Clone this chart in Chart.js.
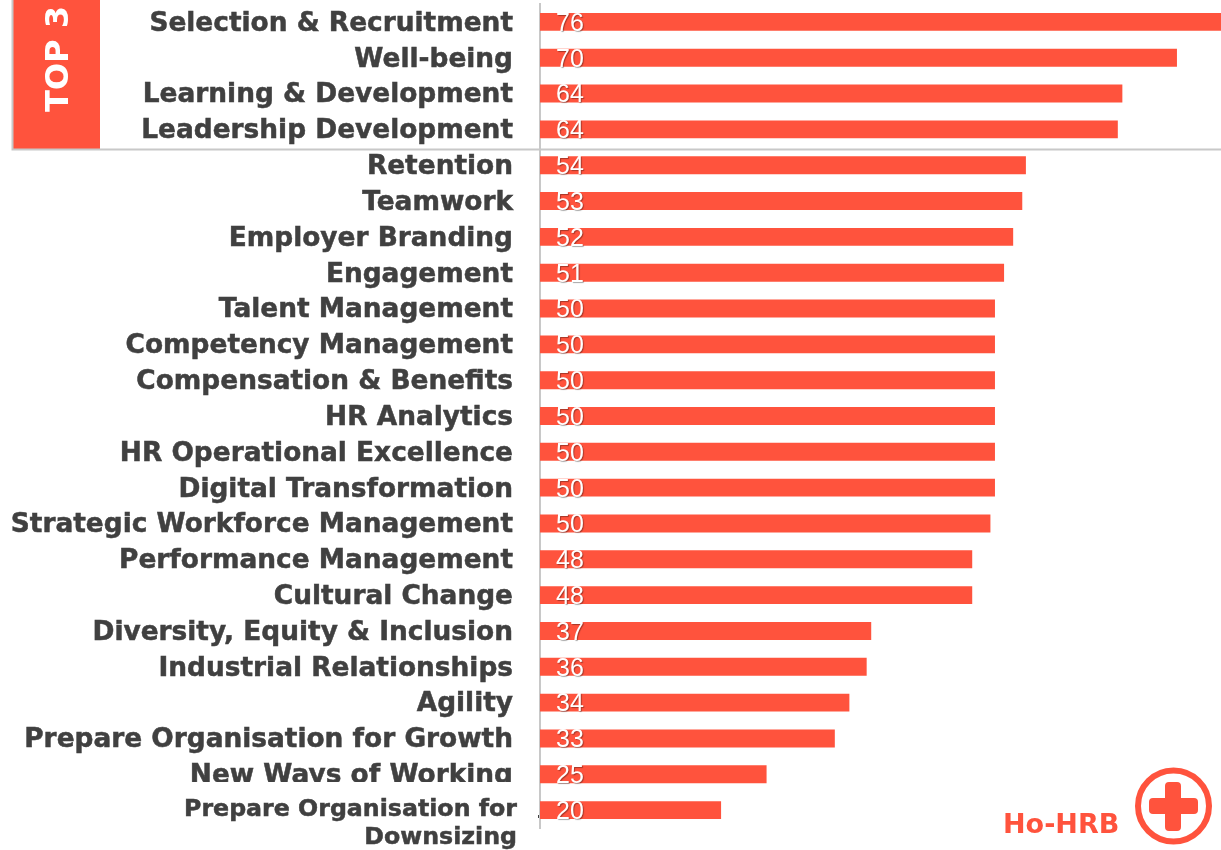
<!DOCTYPE html>
<html>
<head>
<meta charset="utf-8">
<style>
  html, body { margin: 0; padding: 0; background: #fff; overflow: hidden; }
  canvas { display: block; }
</style>
<script src="https://cdn.jsdelivr.net/npm/chart.js@4"></script>
</head>
<body>
<canvas id="topicsChart" width="1221" height="850"></canvas>
<script>
// --- Data ---
const categories = [
  'Selection & Recruitment', 'Well-being', 'Learning & Development', 'Leadership Development',
  'Retention', 'Teamwork', 'Employer Branding', 'Engagement', 'Talent Management',
  'Competency Management', 'Compensation & Benefits', 'HR Analytics', 'HR Operational Excellence',
  'Digital Transformation', 'Strategic Workforce Management', 'Performance Management',
  'Cultural Change', 'Diversity, Equity & Inclusion', 'Industrial Relationships', 'Agility',
  'Prepare Organisation for Growth', 'New Ways of Working',
  ['Prepare Organisation for', 'Downsizing']
];
// bar lengths as measured, the printed labels are rounded
const barValues = [76, 70, 64, 63.5, 53.4, 53, 52, 51, 50, 50, 50, 50, 50, 50, 49.5, 47.5, 47.5, 36.4, 35.9, 34, 32.4, 24.9, 19.9];
const valueLabels = [76, 70, 64, 64, 54, 53, 52, 51, 50, 50, 50, 50, 50, 50, 50, 48, 48, 37, 36, 34, 33, 25, 20];

const RED = '#FF533D';
const GREY = '#404040';

// nudge tick labels, tick padding is the same for all ticks otherwise
const labelShift = {
  id: 'labelShift',
  beforeDraw(chart) {
    const items = chart.scales.y.getLabelItems();
    items.forEach((item, i) => {
      if (item.shifted) return;
      item.options.translation[1] += 2;
      if (i === items.length - 1) {
        item.options.translation[0] += 4;
        item.options.translation[1] += 12;
      }
      item.shifted = true;
    });
  }
};

// values inside the bars
const barLabels = {
  id: 'barLabels',
  afterDatasetsDraw(chart) {
    const ctx = chart.ctx;
    ctx.save();
    ctx.font = '25px "Liberation Sans"';
    ctx.fillStyle = '#fff';
    ctx.textAlign = 'center';
    ctx.textBaseline = 'middle';
    ctx.shadowColor = 'rgba(0,0,0,0.35)';
    ctx.shadowOffsetX = 1;
    ctx.shadowOffsetY = 1;
    ctx.shadowBlur = 1;
    chart.getDatasetMeta(0).data.forEach((bar, i) => {
      ctx.fillText(valueLabels[i], 570, bar.y + 2);
    });
    ctx.restore();
  }
};

// TOP 3 box, separator and logo
const extras = {
  id: 'extras',
  afterDraw(chart) {
    const ctx = chart.ctx;
    ctx.save();

    // descenders of this label are cut in the original
    ctx.fillStyle = '#fff';
    ctx.fillRect(170, 782, 350, 10);

    // small speck next to the axis
    ctx.fillStyle = GREY;
    ctx.fillRect(538, 815, 1, 3);

    ctx.fillStyle = RED;
    ctx.fillRect(13, 0, 87, 149);
    ctx.strokeStyle = '#c8c8c8';
    ctx.lineWidth = 2;
    ctx.beginPath();
    ctx.moveTo(12.5, 0);
    ctx.lineTo(12.5, 149.5);
    ctx.lineTo(1221, 149.5);
    ctx.stroke();

    ctx.save();
    ctx.translate(60, 59);
    ctx.rotate(-Math.PI / 2);
    ctx.fillStyle = '#fff';
    ctx.font = 'bold 32px "DejaVu Sans"';
    ctx.textAlign = 'center';
    ctx.textBaseline = 'middle';
    ctx.fillText('TOP 3', 0, 0);
    ctx.restore();

    ctx.fillStyle = RED;
    ctx.font = 'bold 27px "DejaVu Sans"';
    ctx.textAlign = 'left';
    ctx.textBaseline = 'alphabetic';
    ctx.fillText('Ho-HRB', 1003, 833);

    ctx.strokeStyle = RED;
    ctx.lineWidth = 6;
    ctx.beginPath();
    ctx.arc(1173.5, 806, 35.5, 0, Math.PI * 2);
    ctx.stroke();
    ctx.beginPath();
    ctx.roundRect(1165, 782, 16, 49, 4);
    ctx.roundRect(1149, 798, 49, 16, 4);
    ctx.fill();

    ctx.restore();
  }
};

new Chart(document.getElementById('topicsChart'), {
  type: 'bar',
  data: {
    labels: categories,
    datasets: [{
      data: barValues,
      backgroundColor: RED,
      barPercentage: 0.5,
      categoryPercentage: 1
    }]
  },
  plugins: [labelShift, barLabels, extras],
  options: {
    indexAxis: 'y',
    responsive: false,
    animation: false,
    layout: { padding: { top: 4, bottom: 22 } },
    plugins: { legend: { display: false }, tooltip: { enabled: false } },
    scales: {
      x: { display: false, min: 0, max: 74.84 },
      y: {
        afterFit: (scale) => {
          scale.width = 540;
          scale.paddingTop = 0;
          scale.paddingBottom = 0;
        },
        grid: { display: false },
        border: { color: '#c8c8c8', width: 2 },
        ticks: {
          autoSkip: false,
          padding: 19,
          color: GREY,
          textStrokeColor: GREY,
          textStrokeWidth: 0.5,
          font: (c) => ({
            family: '"DejaVu Sans"',
            weight: 'bold',
            size: c.index === categories.length - 1 ? 23.7 : 26.4,
            lineHeight: 1.2
          })
        }
      }
    }
  }
});
</script>
</body>
</html>
